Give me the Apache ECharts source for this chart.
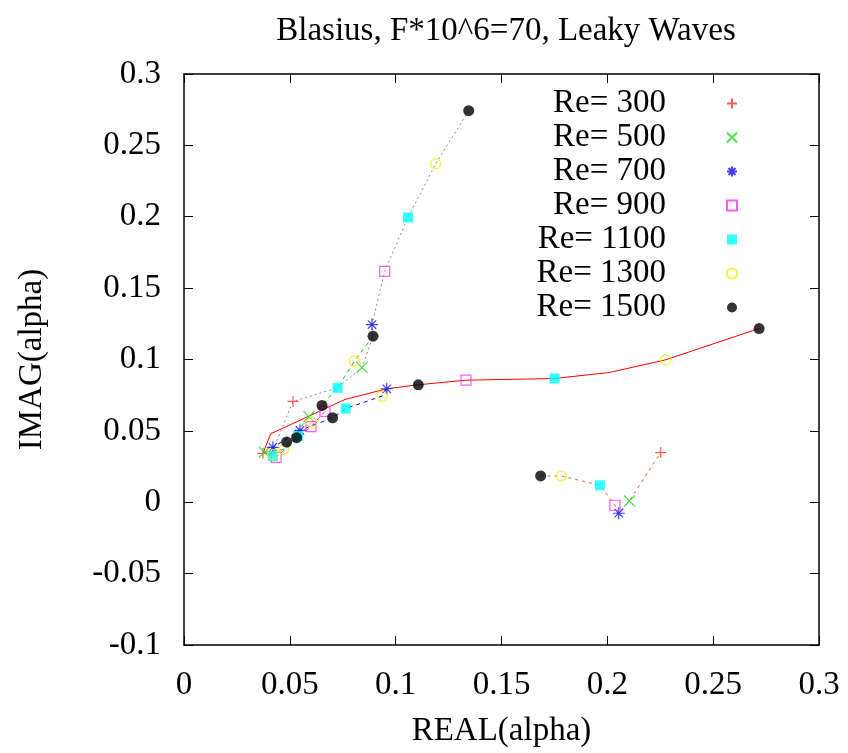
<!DOCTYPE html>
<html>
<head>
<meta charset="utf-8">
<script src="https://cdn.jsdelivr.net/npm/echarts@6/dist/echarts.min.js"></script>
<style>
  html, body { margin: 0; padding: 0; background: #fff; }
  #chart { width: 848px; height: 753px; }
</style>
</head>
<body>
<div id="chart"></div>
<script>
// valores: [REAL(alpha), IMAG(alpha)]
const re300 = [[0.0373, 0.0343], [0.0515, 0.0706], [0.2252, 0.0348]];
const re500 = [[0.0841, 0.0944], [0.0590, 0.0600], [0.0380, 0.0350], [0.2104, 0.0009]];
const re700 = [[0.0888, 0.1245], [0.0958, 0.0795], [0.0548, 0.0503], [0.0420, 0.0385], [0.2054, -0.0077]];
const re900 = [[0.0948, 0.1618], [0.1332, 0.0855], [0.0666, 0.0636], [0.0600, 0.0530], [0.0435, 0.0315], [0.2036, -0.0021]];
const re1100 = [[0.1058, 0.1995], [0.0726, 0.0802], [0.0764, 0.0657], [0.0539, 0.0464], [0.0420, 0.0324], [0.1751, 0.0867], [0.1965, 0.0119]];
const re1300 = [[0.1189, 0.2371], [0.0805, 0.0988], [0.0935, 0.0743], [0.0603, 0.0557], [0.0472, 0.0371], [0.0419, 0.0336], [0.2276, 0.0998], [0.1783, 0.0184]];
const re1500 = [[0.1345, 0.2743], [0.0893, 0.1163], [0.1107, 0.0823], [0.0652, 0.0678], [0.0702, 0.0592], [0.0532, 0.0452], [0.0485, 0.0422], [0.2717, 0.1217], [0.1685, 0.0184]];

// trayectorias de los modos
const modoRojo = [[0.0373, 0.0343], [0.0410, 0.0480], [0.0761, 0.0720], [0.0958, 0.0795], [0.1107, 0.0823], [0.1332, 0.0855], [0.1751, 0.0867], [0.2010, 0.0909], [0.2276, 0.0998], [0.2717, 0.1217]];
const modoGris = [[0.1345, 0.2743], [0.1189, 0.2371], [0.1058, 0.1995], [0.0948, 0.1618], [0.0888, 0.1245], [0.0893, 0.1163], [0.0841, 0.0944], [0.0726, 0.0802], [0.0515, 0.0706], [0.0405, 0.0310]];
const modoVerde = [[0.0893, 0.1163], [0.0805, 0.0988], [0.0726, 0.0802], [0.0652, 0.0678], [0.0590, 0.0600], [0.0472, 0.0371], [0.0380, 0.0350]];
const modoAzul = [[0.0958, 0.0795], [0.0935, 0.0743], [0.0764, 0.0657], [0.0702, 0.0592], [0.0548, 0.0503], [0.0420, 0.0385], [0.0400, 0.0320]];
const modoMagenta = [[0.0666, 0.0636], [0.0600, 0.0530], [0.0435, 0.0315]];
const modoAmarillo = [[0.0603, 0.0557], [0.0472, 0.0371], [0.0419, 0.0336]];
const modoNaranja = [[0.1685, 0.0184], [0.1783, 0.0184], [0.1965, 0.0119], [0.2036, -0.0021], [0.2054, -0.0077], [0.2104, 0.0009], [0.2252, 0.0348]];

const FONT = 'Liberation Serif';
const chart = echarts.init(document.getElementById('chart'));

function linea(data, color, type) {
  return {
    type: 'line', data: data, showSymbol: false, silent: true, z: 1,
    lineStyle: { color: color, width: 1, type: type }
  };
}

function puntos(name, data, symbol, size, style) {
  return { type: 'scatter', name: name, data: data, symbol: symbol, symbolSize: size, itemStyle: style, z: 3 };
}

const trans = 'rgba(0,0,0,0)';
const ejeX = {
  type: 'value', min: 0, max: 0.3, interval: 0.05,
  axisLine: { show: true, onZero: false, lineStyle: { color: '#000', width: 1.5 } },
  axisTick: { show: true, inside: true, length: 9, lineStyle: { color: '#000', width: 1 } },
  splitLine: { show: false }
};
const ejeY = {
  type: 'value', min: -0.1, max: 0.3, interval: 0.05,
  axisLine: { show: true, onZero: false, lineStyle: { color: '#000', width: 1.5 } },
  axisTick: { show: true, inside: true, length: 9, lineStyle: { color: '#000', width: 1 } },
  splitLine: { show: false }
};
const etiqueta = v => String(+v.toFixed(2));

chart.setOption({
  animation: false,
  backgroundColor: '#fff',
  title: {
    text: 'Blasius, F*10^6=70, Leaky Waves',
    left: 501, top: 10, textAlign: 'center',
    textStyle: { fontFamily: FONT, fontSize: 33, fontWeight: 'normal', color: '#000' }
  },
  grid: { left: 184, right: 29, top: 74, bottom: 107 },
  legend: {
    orient: 'vertical', align: 'right', right: 105, top: 82,
    itemWidth: 10, itemHeight: 10, itemGap: 1,
    textStyle: { fontFamily: FONT, fontSize: 33, color: '#000', lineHeight: 33, padding: [0, 56, 0, 0] },
    data: ['Re= 300', 'Re= 500', 'Re= 700', 'Re= 900', 'Re= 1100', 'Re= 1300', 'Re= 1500']
  },
  xAxis: [
    Object.assign({}, ejeX, {
      position: 'bottom',
      name: 'REAL(alpha)', nameLocation: 'middle', nameGap: 70,
      nameTextStyle: { fontFamily: FONT, fontSize: 33, color: '#000' },
      axisLabel: { fontFamily: FONT, fontSize: 33, color: '#000', margin: 24, formatter: etiqueta }
    }),
    Object.assign({}, ejeX, { position: 'top', axisLabel: { show: false } })
  ],
  yAxis: [
    Object.assign({}, ejeY, {
      position: 'left',
      name: 'IMAG(alpha)', nameLocation: 'middle', nameGap: 135,
      nameTextStyle: { fontFamily: FONT, fontSize: 33, color: '#000' },
      axisLabel: { fontFamily: FONT, fontSize: 33, color: '#000', margin: 23, formatter: etiqueta }
    }),
    Object.assign({}, ejeY, { position: 'right', axisLabel: { show: false } })
  ],
  series: [
    linea(modoRojo, '#ff0000', 'solid'),
    linea(modoGris, '#888888', [2, 3]),
    linea(modoVerde, '#00cc00', [4, 4]),
    linea(modoAzul, '#0000ff', [4, 4]),
    linea(modoMagenta, '#ff00ff', [4, 4]),
    linea(modoAmarillo, '#e0e000', [4, 4]),
    linea(modoNaranja, '#f06030', [3, 4]),
    puntos('Re= 300', re300, 'path://M0,5H10M5,0V10', 11, { color: trans, borderColor: '#ff3030', borderWidth: 1.2 }),
    puntos('Re= 500', re500, 'path://M0,0L10,10M10,0L0,10', 11, { color: trans, borderColor: '#22dd22', borderWidth: 1.2 }),
    puntos('Re= 700', re700, 'path://M5,0V10M0,5H10M1.5,1.5L8.5,8.5M8.5,1.5L1.5,8.5', 12, { color: trans, borderColor: '#1010ee', borderWidth: 1.2 }),
    puntos('Re= 900', re900, 'rect', 10, { color: trans, borderColor: '#ff30ff', borderWidth: 1.2 }),
    puntos('Re= 1100', re1100, 'rect', 10, { color: '#00ffff', borderColor: '#00ffff', borderWidth: 0 }),
    puntos('Re= 1300', re1300, 'circle', 10, { color: trans, borderColor: '#f0f000', borderWidth: 1.2 }),
    puntos('Re= 1500', re1500, 'circle', 11, { color: '#000000', borderWidth: 0 })
  ]
});
</script>
</body>
</html>
